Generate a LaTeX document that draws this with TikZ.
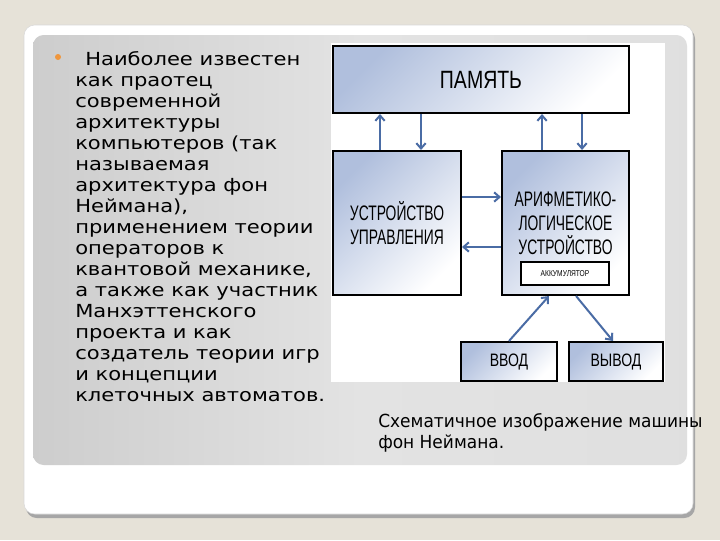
\documentclass[tikz,border=0pt]{standalone}
\usepackage{fontspec}
\setmainfont[FakeStretch=1.17]{DejaVu Sans}
\newfontfamily\boxfont[FakeStretch=0.66]{Liberation Sans}
\newfontfamily\wideboxfont[FakeStretch=0.78]{Liberation Sans}
\newfontfamily\capfont[FakeStretch=1.05]{DejaVu Sans Condensed}
\usetikzlibrary{arrows.meta}
\definecolor{pagebg}{RGB}{230,226,216}
\definecolor{flowblue}{RGB}{74,108,165}
\definecolor{boxblue}{RGB}{176,191,221}
\definecolor{dotorange}{RGB}{240,150,60}
\pgfdeclarehorizontalshading{panelshade}{100bp}{color(0bp)=(black!40); color(12bp)=(black!24); color(50bp)=(black!11); color(86bp)=(black!13); color(95bp)=(black!30); color(100bp)=(black!42)}
\begin{document}
\begin{tikzpicture}[x=0.75pt,y=-0.75pt,>={Straight Barb[length=4pt,width=7pt]}]
	\tikzset{unit/.style={draw=black,line width=1.5pt,top color=boxblue,bottom color=white,shading angle=45,inner sep=0pt,align=center,font=\boxfont\fontsize{15.75pt}{18pt}\selectfont},
		flow/.style={->,draw=flowblue,line width=1.5pt}}
	\useasboundingbox (0,0) rectangle (720,540);
	\fill[pagebg] (0,0) rectangle (720,540);
	% slide card and grey panel
	\fill[black!35,rounded corners=8] (26,28) rectangle (695,518);
	\fill[white,draw=black!15,rounded corners=8] (24,25) rectangle (693,514);
	\shade[shading=panelshade,rounded corners=8] (33,35) rectangle (687,465);
	\fill[white] (331,43) rectangle (665,382);
	\fill[dotorange] (58,57) circle (3);
	\node[anchor=north west,inner sep=0pt,align=left,font=\fontsize{13.5pt}{15.75pt}\selectfont] (bio) at (75,51) {\hspace*{7.5pt}Наиболее известен\\как праотец\\современной\\архитектуры\\компьютеров (так\\называемая\\архитектура фон\\Неймана),\\применением теории\\операторов к\\квантовой механике,\\а также как участник\\Манхэттенского\\проекта и как\\создатель теории игр\\и концепции\\клеточных автоматов.};
	\node[anchor=north west,inner sep=0pt,align=left,font=\capfont\fontsize{13.5pt}{15.75pt}\selectfont] (caption) at (378,413) {Схематичное изображение машины\\фон Неймана.};
	% machine
	\node[unit,minimum width=222pt,minimum height=50.25pt,font=\wideboxfont\fontsize{18.75pt}{20pt}\selectfont] (mem) at (481,79.5) {ПАМЯТЬ};
	\node[unit,minimum width=96pt,minimum height=108pt] (cu) at (397,223) {УСТРОЙСТВО\\УПРАВЛЕНИЯ};
	\node[unit,minimum width=95.25pt,minimum height=108pt] (alu) at (565.5,223) {АРИФМЕТИКО-\\ЛОГИЧЕСКОЕ\\УСТРОЙСТВО};
	\node[draw=black,fill=white,line width=1.2pt,minimum width=66pt,minimum height=17.25pt,inner sep=0pt,font=\wideboxfont\fontsize{6.4pt}{7pt}\selectfont] (acc) at (565,273.5) {АККУМУЛЯТОР};
	\node[unit,minimum width=72pt,minimum height=29.25pt,font=\wideboxfont\fontsize{13.5pt}{15pt}\selectfont] (inp) at (509,361.5) {ВВОД};
	\node[unit,minimum width=70.5pt,minimum height=29.25pt,font=\wideboxfont\fontsize{13.5pt}{15pt}\selectfont] (outp) at (616,361.5) {ВЫВОД};
	\draw[flow] ([xshift=-12.75pt]cu.north) -- ([xshift=-12.75pt]cu.north |- mem.south);
	\draw[flow] ([xshift=18pt]cu.north |- mem.south) -- ([xshift=18pt]cu.north);
	\draw[flow] ([xshift=-17.6pt]alu.north) -- ([xshift=-17.6pt]alu.north |- mem.south);
	\draw[flow] ([xshift=12.4pt]alu.north |- mem.south) -- ([xshift=12.4pt]alu.north);
	\draw[flow] ([yshift=19.5pt]cu.east) -- ([yshift=19.5pt]cu.east -| alu.west);
	\draw[flow] ([yshift=-18pt]cu.east -| alu.west) -- ([yshift=-18pt]cu.east);
	\draw[flow] (inp.north) -- ([xshift=-12.4pt]alu.south);
	\draw[flow] ([xshift=7.9pt]alu.south) -- ([xshift=-2.25pt]outp.north);
\end{tikzpicture}
\end{document}
